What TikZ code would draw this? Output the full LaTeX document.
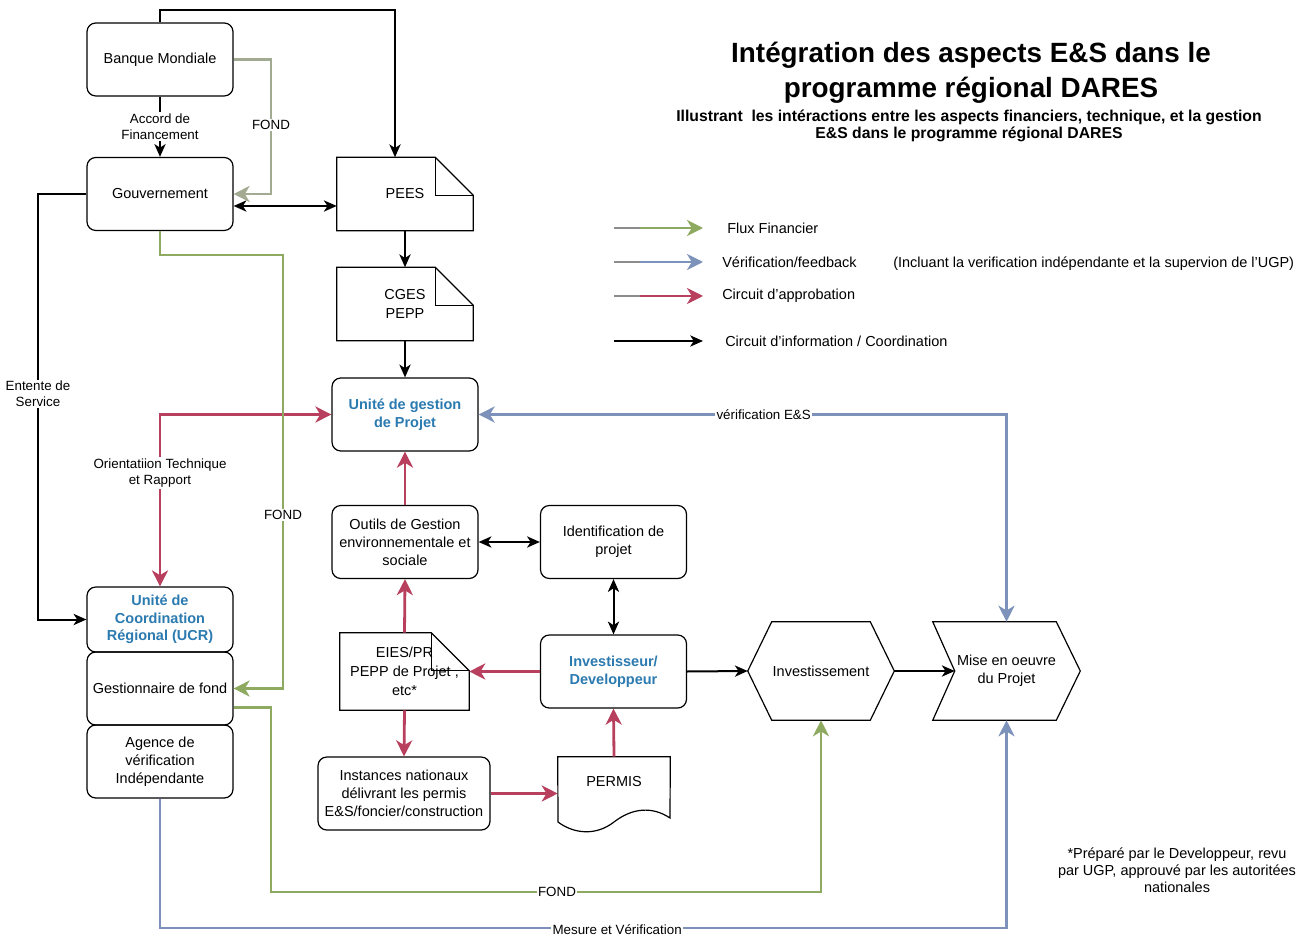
\documentclass[tikz,border=0pt]{standalone}
\usepackage{fontspec}
\setmainfont{Liberation Sans}
\usepackage{xcolor}
\usetikzlibrary{arrows.meta}
\usetikzlibrary{calc}
\usetikzlibrary{math}

\definecolor{fondgreen}{HTML}{8DAA60}
\definecolor{fondgray}{HTML}{A3AA92}
\definecolor{verifblue}{HTML}{7D92BA}
\definecolor{approred}{HTML}{B8405E}
\definecolor{legendgray}{HTML}{8C8C8C}
\definecolor{textblue}{HTML}{2B7AB0}

\begin{document}
\begin{tikzpicture}[x=0.25mm,y=-0.25mm,
  box/.style={draw, line width=0.3mm, rounded corners=2.2mm, align=center,
    minimum width=36.5mm, minimum height=18.25mm, inner sep=1mm,
    font=\fontsize{10.3}{12.8}\selectfont},
  bluebox/.style={box, text=textblue, font=\fontsize{10.3}{12.6}\selectfont\bfseries},
  docnote/.style={align=center, minimum width=34mm, minimum height=18.25mm,
    inner sep=1mm, font=\fontsize{10.3}{13.5}\selectfont},
  freetext/.style={align=center, inner sep=1mm, font=\fontsize{10.3}{12.8}\selectfont},
  lbl/.style={fill=white, inner sep=1pt, align=center, font=\fontsize{9.5}{11.3}\selectfont},
  info/.style={line width=0.5mm, >={Stealth[length=3.2mm,width=2.8mm,inset=0.9mm]}, ->},
  fond/.style={line width=0.7mm, draw=fondgreen, >={Stealth[length=4mm,width=4mm,inset=1.2mm]}, ->},
  verif/.style={fond, draw=verifblue},
  appro/.style={fond, draw=approred},
  outline/.style={line width=0.3mm}]

  \tikzmath{
    \foldsize   = 9.5;  % folded corner of the documents
    \pointdepth = 6;    % depth of the points of the hexagons
    \notchdepth = 5.5;  % depth of the notch of the last step
  }

  \fill[white] (0, 0) rectangle (1313, 942);

  % title
  \node[align=center, font=\fontsize{19.8}{24.8}\selectfont\bfseries] (title) at (971, 73)
    {Intégration des aspects E\&S dans le\\programme régional DARES};
  \node[align=center, font=\fontsize{11.2}{11.6}\selectfont\bfseries] (subtitle) at (969, 126)
    {Illustrant~~les intéractions entre les aspects financiers, technique, et la gestion\\E\&S dans le programme régional DARES};

  % left column
  \node[box] (bm) at (160, 59.5) {Banque Mondiale};
  \node[box] (gov) at (160, 194) {Gouvernement};
  \node[bluebox, minimum height=16.25mm] (ucr) at (160, 619.5) {Unité de\\Coordination\\Régional (UCR)};
  \node[box] (gest) at (160, 688.5) {Gestionnaire de fond};
  \node[box] (agence) at (160, 761.5) {Agence de\\vérification\\Indépendante};

  % middle column
  \node[docnote] (pees) at (405, 194) {PEES};
  \node[docnote] (cges) at (405, 304) {CGES\\PEPP};
  \node[bluebox] (ugp) at (405, 414.5) {Unité de gestion\\de Projet};
  \node[box] (outils) at (405, 542) {Outils de Gestion\\environnementale et\\sociale};
  \node[docnote, minimum width=32.25mm, minimum height=19.25mm] (eies) at (404.5, 671.5)
    {EIES/PR\\PEPP de Projet ,\\etc*};
  \node[box, minimum width=43mm] (inst) at (404, 793.5)
    {Instances nationaux\\délivrant les permis\\E\&S/foncier/construction};

  % right column
  \node[box] (ident) at (613.5, 542) {Identification de\\projet};
  \node[bluebox] (invest) at (613.5, 671.5) {Investisseur/\\Developpeur};
  \node[freetext, minimum width=28mm, minimum height=12.5mm] (permis) at (614, 782) {PERMIS};
  \node[freetext, minimum width=36.5mm, minimum height=24.5mm] (inv) at (821, 671) {Investissement};
  \node[freetext, minimum width=36.75mm, minimum height=24.5mm] (mise) at (1006.5, 671)
    {Mise en oeuvre\\du Projet};

  % documents with a folded corner
  \foreach \n in {pees, cges, eies}{
    \draw[outline] (\n.south west) -- (\n.north west) -- ([xshift=-\foldsize mm]\n.north east)
      -- ([yshift=-\foldsize mm]\n.north east) -- (\n.south east) -- cycle;
    \draw[outline] ([xshift=-\foldsize mm]\n.north east) |- ([yshift=-\foldsize mm]\n.north east);
  }

  % permit with a wavy bottom
  \draw[outline] (permis.north west) -- (permis.north east) -- (670, 818)
    .. controls (652, 806) and (632, 808) .. (614, 822)
    .. controls (596, 836) and (574, 834) .. (558, 822) -- cycle;

  % hexagon and step
  \draw[outline] (inv.west) -- ([xshift=\pointdepth mm]inv.north west)
    -- ([xshift=-\pointdepth mm]inv.north east) -- (inv.east)
    -- ([xshift=-\pointdepth mm]inv.south east) -- ([xshift=\pointdepth mm]inv.south west) -- cycle;
  \draw[outline] (mise.north west) -- ([xshift=-\pointdepth mm]mise.north east) -- (mise.east)
    -- ([xshift=-\pointdepth mm]mise.south east) -- (mise.south west)
    -- ([xshift=\notchdepth mm]mise.west) -- cycle;

  % information / coordination
  \coordinate (bend) at (395, 10);
  \draw[info] (bm.north) |- (bend) -- (bend |- pees.north);
  \draw[info] (bm.south) -- node[lbl]{Accord de\\Financement} (gov.north);
  \draw[info, <->] ([yshift=-3mm]gov.east) -- ([yshift=-3mm]pees.west);
  \draw[info] (pees.south) -- (cges.north);
  \draw[info] (cges.south) -- (ugp.north);
  \coordinate (es) at (38, 394);
  \draw[info] (gov.west) -| (es) node[lbl]{Entente de\\Service} |- (ucr.west);
  \draw[info, <->] (outils.east) -- (ident.west);
  \draw[info, <->] (ident.south) -- (invest.north);
  \draw[info] (invest.east) -- (inv.west);
  \draw[info] (inv.east) -- ([xshift=\notchdepth mm]mise.west);

  % approbation
  \draw[appro, <->] (ucr.north) |- node[lbl, pos=0.33]{Orientatiion Technique\\et Rapport} (ugp.west);
  \draw[appro] (outils.north) -- (ugp.south);
  \draw[appro] (eies.north) -- (outils.south);
  \draw[appro] (invest.west) -- (eies.east);
  \draw[appro] (eies.south) -- (inst.north);
  \draw[appro] (inst.east) -- (inst.east -| permis.west);
  \draw[appro] (permis.north) -- (invest.south);

  % financial flows
  \coordinate (fg) at (271, 125);
  \draw[fond, draw=fondgray] (bm.east) -| (fg) node[lbl]{FOND} |- (gov.east);
  \coordinate (fm) at (283, 255);
  \draw[fond] (gov.south) |- (fm) |- node[lbl, pos=0.3]{FOND} (gest.east);
  \coordinate (fb) at (271, 892);
  \draw[fond] ([yshift=-4.75mm]gest.east) -| (fb) -| node[lbl, pos=0.26]{FOND} (inv.south);

  % verification
  \draw[verif, <->] (ugp.east) -| node[lbl, pos=0.27]{vérification E\&S} (mise.north);
  \coordinate (mv) at (1006.5, 928);
  \draw[verif] (agence.south) |- node[lbl, pos=0.77, yshift=-0.5mm]{Mesure et Vérification} (mv) -- (mise.south);

  % legend
  \node[freetext, anchor=west] (lg1) at (723, 228) {Flux Financier};
  \node[freetext, anchor=west] (lg2) at (718, 262) {Vérification/feedback};
  \node[freetext, anchor=west] (lg3) at (718, 296) {Circuit d'approbation};
  \node[freetext, anchor=west] (lg4) at (721, 341) {Circuit d'information / Coordination};
  \node[freetext, anchor=west] (lg5) at (889, 264)
    {(Incluant la verification indépendante et la supervion de l'UGP)};

  \coordinate (la) at (614, 0);
  \coordinate (lm) at (642, 0);
  \coordinate (lb) at (703, 0);
  \foreach \n/\c in {lg1/fondgreen, lg2/verifblue, lg3/approred}{
    \draw[line width=0.7mm, legendgray] (la |- \n.west) -- (lm |- \n.west);
    \draw[fond, draw=\c] ([xshift=-0.5mm]lm |- \n.west) -- (lb |- \n.west);
  }
  \draw[info] (la |- lg4.west) -- (lb |- lg4.west);

  % footnote
  \node[freetext, font=\fontsize{10.3}{12}\selectfont] (foot) at (1177, 870)
    {*Préparé par le Developpeur, revu\\par UGP, approuvé par les autoritées\\nationales};

\end{tikzpicture}
\end{document}
